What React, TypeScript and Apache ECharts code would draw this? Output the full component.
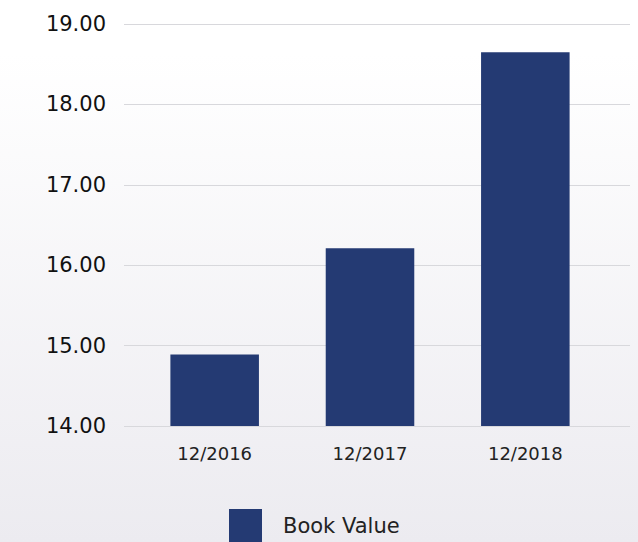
import React, { useEffect, useRef } from "react";
import * as echarts from "echarts";

const categories = ["12/2016", "12/2017", "12/2018"];
const bookValues = [14.89, 16.21, 18.65];
const seriesName = "Book Value";
const yMin = 14;
const yMax = 19;
const yInterval = 1;

export default function App() {
  const ref = useRef<HTMLDivElement>(null);
  useEffect(() => {
    if (!ref.current) return;
    const chart = echarts.init(ref.current, null, { renderer: "svg" });
    const font = "DejaVu Sans";
    chart.setOption({
      animation: false,
      backgroundColor: new echarts.graphic.LinearGradient(0, 0, 0, 1, [
        { offset: 0, color: "#ffffff" },
        { offset: 0.1, color: "#ffffff" },
        { offset: 1, color: "#ecebf0" },
      ]),
      grid: [
        { left: 124, right: 8, top: 24, bottom: 116 },
        { left: 137, right: 35, top: 24, bottom: 116 },
      ],
      legend: {
        data: [seriesName],
        left: 224,
        top: 504,
        icon: "rect",
        itemWidth: 33,
        itemHeight: 33,
        textStyle: {
          fontFamily: font,
          fontSize: 21,
          color: "#222",
          padding: [0, 0, 0, 16],
        },
      },
      xAxis: [
        {
          gridIndex: 0,
          type: "category",
          data: categories,
          show: false,
        },
        {
          gridIndex: 1,
          type: "category",
          data: categories,
          axisLine: { show: false },
          axisTick: { show: false },
          axisLabel: {
            margin: 18,
            fontFamily: font,
            fontSize: 18,
            color: "#222",
          },
        },
      ],
      yAxis: [
        {
          gridIndex: 0,
          type: "value",
          min: yMin,
          max: yMax,
          interval: yInterval,
          axisLine: { show: false },
          axisTick: { show: false },
          axisLabel: {
            margin: 18,
            fontFamily: font,
            fontSize: 21,
            color: "#111",
            formatter: (v: number) => v.toFixed(2),
          },
          splitLine: { lineStyle: { color: "#d8d8dc", width: 1.2 } },
        },
        {
          gridIndex: 1,
          type: "value",
          min: yMin,
          max: yMax,
          interval: yInterval,
          show: false,
          splitLine: { show: false },
        },
      ],
      series: [
        {
          name: seriesName,
          type: "bar",
          xAxisIndex: 1,
          yAxisIndex: 1,
          data: bookValues,
          barWidth: "57%",
          itemStyle: { color: "#243a73" },
        },
      ],
    });
    return () => chart.dispose();
  }, []);
  return (
    <div
      ref={ref}
      style={{ position: "fixed", left: 0, top: 0, width: 638, height: 542 }}
    />
  );
}
